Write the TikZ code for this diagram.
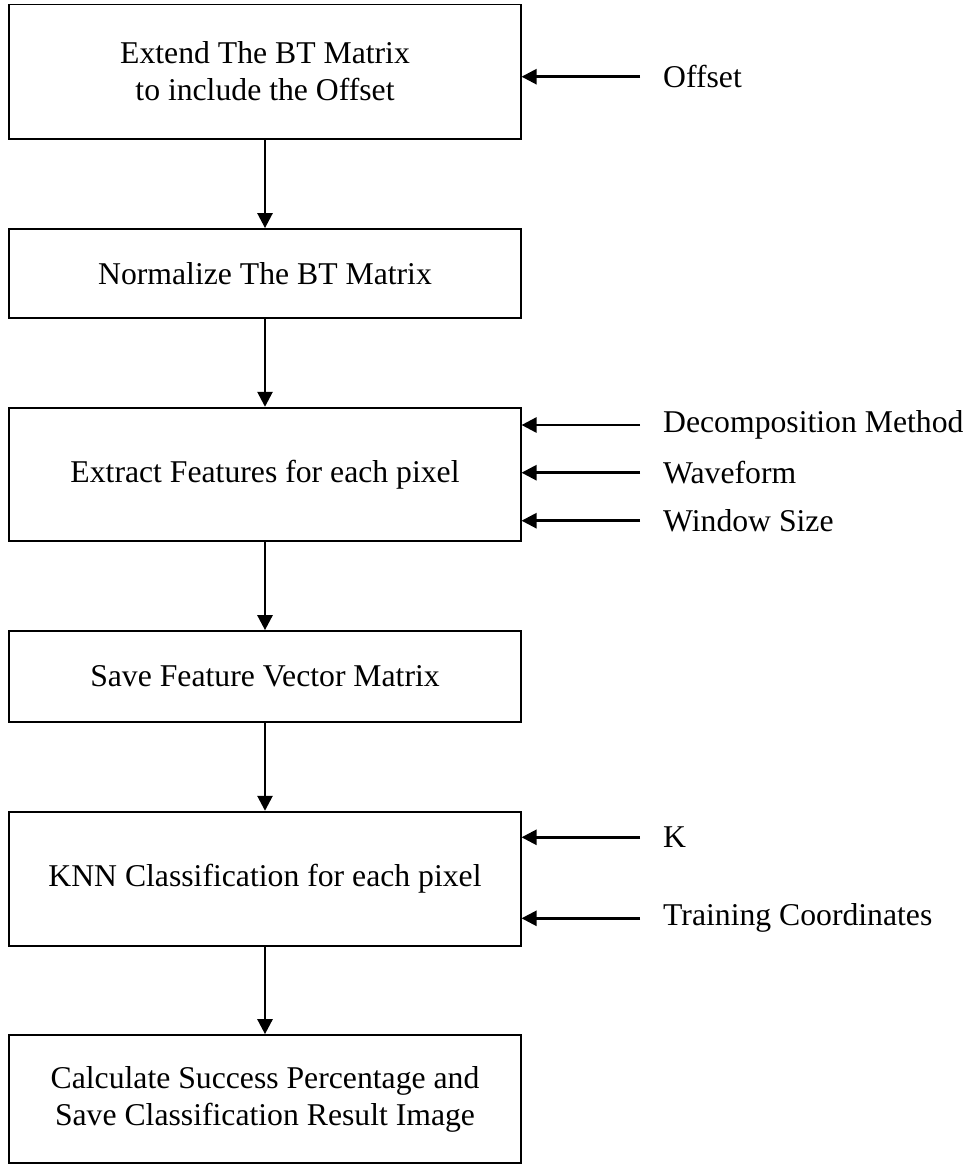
\documentclass[tikz,border=0pt]{standalone}
\usepackage{fontspec}
\setmainfont{Liberation Serif}
\usetikzlibrary{arrows.meta}
\begin{document}
\begin{tikzpicture}[x=1pt,y=-1pt,
  font=\fontsize{31.7}{37}\selectfont,
  stepbox/.style={draw, rectangle, line width=1.7pt, inner sep=0pt,
                  minimum width=511.4pt, align=center},
  flow/.style={line width=2.6pt, -{Triangle[length=15pt,width=15pt]}},
  inlabel/.style={anchor=west, inner sep=0pt}]
\useasboundingbox (0,0) rectangle (971,1167);

% process steps
\node[stepbox, minimum height=134.2pt] (b1) at (265,71.6)
  {Extend The BT Matrix\\to include the Offset};
\node[stepbox, minimum height=89.3pt] (b2) at (265,273.6)
  {Normalize The BT Matrix};
\node[stepbox, minimum height=133.3pt] (b3) at (265,474.3)
  {Extract Features for each pixel};
\node[stepbox, minimum height=91pt] (b4) at (265,676.5)
  {Save Feature Vector Matrix};
\node[stepbox, minimum height=134.3pt] (b5) at (265,878.8)
  {KNN Classification for each pixel};
\node[stepbox, minimum height=128pt] (b6) at (265,1099)
  {Calculate Success Percentage and\\Save Classification Result Image};

% main flow
\draw[flow] (b1) -- (b2);
\draw[flow] (b2) -- (b3);
\draw[flow] (b3) -- (b4);
\draw[flow] (b4) -- (b5);
\draw[flow] (b5) -- (b6);

% parameters fed into the steps
\coordinate (pOffset) at (640,76.7);
\coordinate (pDecomp) at (640,425);
\coordinate (pWave)   at (640,472.7);
\coordinate (pWin)    at (640,520.7);
\coordinate (pK)      at (640,837.3);
\coordinate (pTrain)  at (640,918.3);

\node[inlabel] (lOffset) at (663,76.7) {Offset};
\node[inlabel] (lDecomp) at (663,425) {Decomposition Method};
\node[inlabel] (lWave)   at (663,472.7) {Waveform};
\node[inlabel] (lWin)    at (663,520.7) {Window Size};
\node[inlabel] (lK)      at (663,837.3) {K};
\node[inlabel] (lTrain)  at (663,918.3) {Training Coordinates};

\draw[flow] (pOffset) -- (pOffset -| b1.east);
\draw[flow] (pDecomp) -- (pDecomp -| b3.east);
\draw[flow] (pWave)   -- (pWave -| b3.east);
\draw[flow] (pWin)    -- (pWin -| b3.east);
\draw[flow] (pK)      -- (pK -| b5.east);
\draw[flow] (pTrain)  -- (pTrain -| b5.east);
\end{tikzpicture}
\end{document}
